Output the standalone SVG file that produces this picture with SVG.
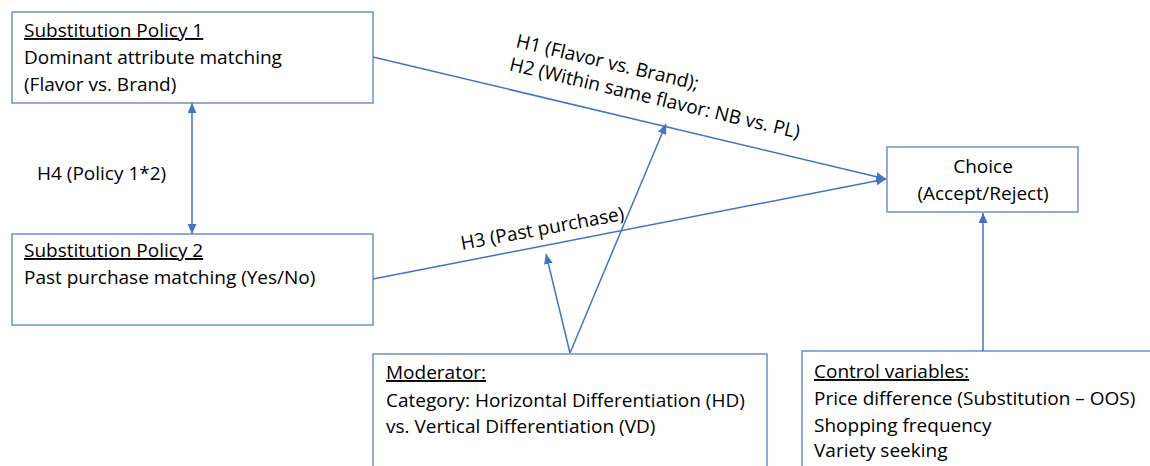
<svg xmlns="http://www.w3.org/2000/svg" width="1150" height="466" viewBox="0 0 1150 466">
<style>
.box{fill:#fff;stroke:#6E8FD2;stroke-width:1.5}
.ln{stroke:#4472C4;stroke-width:1.5;fill:none}
text{font-family:"Open Sans","Liberation Sans",sans-serif;font-size:19px;fill:#000}
.u{text-decoration:underline}
</style>
<defs>
<marker id="ah" viewBox="0 0 10 10" refX="10" refY="5" markerWidth="10" markerHeight="9" orient="auto-start-reverse" markerUnits="userSpaceOnUse" preserveAspectRatio="none">
<path d="M0,0 L10,5 L0,10 z" fill="#4472C4"/>
</marker>
</defs>
<rect width="1150" height="466" fill="#fff"/>
<g id="policy1">
<rect class="box" x="12" y="12" width="361" height="91"/>
<text x="24" y="37" class="u">Substitution Policy 1</text>
<text x="24" y="64">Dominant attribute matching</text>
<text x="24" y="91">(Flavor vs. Brand)</text>
</g>
<g id="policy2">
<rect class="box" x="12" y="234" width="361" height="91"/>
<text x="24" y="257" class="u">Substitution Policy 2</text>
<text x="24" y="284">Past purchase matching (Yes/No)</text>
</g>
<g id="choice">
<rect class="box" x="887" y="147" width="191" height="65"/>
<text x="983" y="173" text-anchor="middle">Choice</text>
<text x="983" y="200" text-anchor="middle">(Accept/Reject)</text>
</g>
<g id="moderator">
<rect class="box" x="373" y="354" width="394" height="130"/>
<text x="386" y="379" class="u">Moderator:</text>
<text x="386" y="407">Category: Horizontal Differentiation (HD)</text>
<text x="386" y="433">vs. Vertical Differentiation (VD)</text>
</g>
<g id="controls">
<rect class="box" x="802" y="351" width="370" height="130"/>
<text x="814" y="378" class="u">Control variables:</text>
<text x="814" y="405">Price difference (Substitution – OOS)</text>
<text x="814" y="432">Shopping frequency</text>
<text x="814" y="457">Variety seeking</text>
</g>
<g id="connectors">
<line class="ln" x1="373" y1="57" x2="886" y2="179" marker-end="url(#ah)"/>
<line class="ln" x1="373" y1="279" x2="886" y2="179" marker-end="url(#ah)"/>
<line class="ln" x1="192" y1="103" x2="192" y2="234" marker-start="url(#ah)" marker-end="url(#ah)"/>
<line class="ln" x1="570" y1="353" x2="666" y2="124" marker-end="url(#ah)"/>
<line class="ln" x1="570" y1="353" x2="546" y2="254" marker-end="url(#ah)"/>
<line class="ln" x1="983" y1="351" x2="983" y2="213" marker-end="url(#ah)"/>
<text x="37" y="180">H4 (Policy 1*2)</text>
<g transform="translate(515,47) rotate(13.3)">
<text x="0" y="0">H1 (Flavor vs. Brand);</text>
<text x="-1" y="24">H2 (Within same flavor: NB vs. PL)</text>
</g>
<text transform="translate(462,250) rotate(-10.5)">H3 (Past purchase)</text>
</g>
</svg>
